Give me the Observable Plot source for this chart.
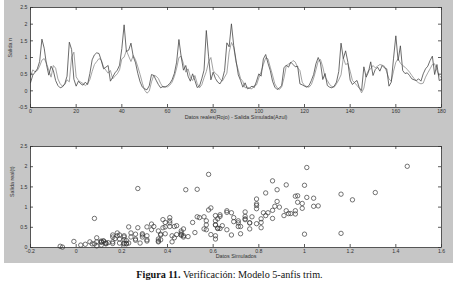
<!DOCTYPE html>
<html>
<head>
<meta charset="utf-8">
<script src="https://cdn.jsdelivr.net/npm/d3@7"></script>
<script src="https://cdn.jsdelivr.net/npm/@observablehq/plot@0.6"></script>
<style>
  html, body { margin: 0; padding: 0; background: #fff; }
  #fig { position: absolute; left: 4px; top: 0; width: 449px; height: 263px; background: #c6c6c6; }
  #topc, #botc { position: absolute; left: 0; }
  #topc { top: 0; }
  #botc { top: 131px; }
  #cap { position: absolute; left: 0; top: 269px; width: 459px; text-align: center;
         font-family: "Liberation Serif", "DejaVu Serif", serif; font-size: 10.2px; color: #111; }
  svg { background: transparent !important; }
</style>
</head>
<body>
<div id="fig"><div id="topc"></div><div id="botc"></div></div>
<div id="cap"><b>Figura 11.</b> Verificación: Modelo 5-anfis trim.</div>
<script>
// Datos reales (Rojo), t = 0..180
const realData = [
 0.24,0.47,0.56,0.66,0.88,1.55,1.28,0.79,0.47,0.74,
 0.61,0.31,0.16,0.09,0.12,0.21,0.44,1.46,1.24,0.35,
 0.14,0.29,0.21,0.17,0.26,0.19,0.52,0.93,1.08,1.14,
 1.12,0.91,0.66,0.71,0.76,0.29,0.41,0.54,0.62,0.77,
 1.27,1.98,1.18,1.22,1.43,1.03,0.84,0.52,0.27,0.11,
 0.06,0.03,0.15,0.49,0.46,0.32,0.19,0.09,0.13,0.11,
 0.16,0.22,0.33,0.52,0.86,1.54,1.02,0.62,0.76,0.44,
 0.29,0.51,0.31,0.10,0.14,0.36,0.62,1.81,1.02,0.33,
 0.56,0.37,0.26,0.21,0.34,0.61,1.44,1.32,2.01,1.36,
 0.92,0.48,0.31,0.11,0.24,0.06,0.09,0.14,0.10,0.29,
 0.51,0.44,0.96,1.09,0.83,0.61,0.29,0.11,0.04,0.08,
 0.16,0.69,0.77,0.71,0.86,0.79,0.72,0.74,0.21,0.18,
 0.14,0.11,0.16,0.31,0.49,0.81,1.00,0.84,0.34,0.52,
 0.16,0.11,0.09,0.14,0.26,0.58,1.43,0.97,1.20,0.86,
 0.32,0.19,0.26,0.31,0.09,0.01,0.72,0.41,0.56,0.87,
 0.46,0.64,0.71,0.59,0.76,0.69,0.66,0.14,0.26,0.98,
 1.65,0.91,1.35,0.61,0.52,0.54,0.46,0.36,0.33,0.31,
 0.36,0.29,0.51,0.66,0.74,0.91,1.04,0.49,0.79,0.31,
 0.34
];
// Salida simulada (Azul), t = 0..180
const simData = [
 0.43,0.63,0.57,0.61,0.74,0.92,0.97,0.83,0.62,0.41,
 0.76,0.68,0.36,0.21,0.14,0.19,0.33,0.27,1.01,1.16,
 0.42,0.31,0.26,0.22,0.16,0.21,0.34,0.58,0.79,0.88,
 0.97,0.92,0.71,0.62,0.53,0.61,0.36,0.44,0.51,0.63,
 0.96,1.01,1.21,1.04,0.88,1.06,0.93,0.72,0.49,0.23,
 0.02,-0.07,-0.01,0.27,0.47,0.44,0.37,0.22,0.11,0.13,
 0.12,0.17,0.26,0.43,0.68,1.00,1.04,0.81,0.56,0.66,
 0.42,0.31,0.46,0.22,0.09,0.18,0.39,0.58,0.87,1.00,
 0.61,0.52,0.47,0.36,0.29,0.41,0.53,1.16,1.45,1.31,
 0.86,0.62,0.37,0.28,0.09,0.11,0.07,0.06,0.16,0.18,
 0.39,0.57,0.79,0.99,0.96,0.71,0.47,0.21,0.09,0.04,
 0.12,0.38,0.74,0.81,0.84,0.91,0.86,0.69,0.61,0.26,
 0.16,0.13,0.11,0.19,0.38,0.63,0.89,0.94,0.72,0.41,
 0.31,0.19,0.13,0.11,0.21,0.33,0.48,0.99,0.79,0.82,
 0.59,0.31,0.24,0.16,0.08,-0.06,0.08,0.46,0.61,0.66,
 0.76,0.69,0.74,0.79,0.77,0.74,0.57,0.36,0.29,0.59,
 0.86,0.96,0.83,0.76,0.71,0.64,0.56,0.46,0.37,0.29,
 0.24,0.21,0.23,0.41,0.54,0.66,0.79,0.81,0.61,0.46,
 0.39
];
const topXTicks = [0, 20, 40, 60, 80, 100, 120, 140, 160, 180];
const topYTicks = [-0.5, 0, 0.5, 1, 1.5, 2, 2.5];
const botXTicks = [-0.2, 0, 0.2, 0.4, 0.6, 0.8, 1, 1.2, 1.4, 1.6];
const botYTicks = [0, 0.5, 1, 1.5, 2, 2.5];
const topXLabel = "Datos reales(Rojo) - Salida Simulada(Azul)";
const topYLabel = "Salida n";
const botXLabel = "Datos Simulados";
const botYLabel = "Salida real(t)";

const series = realData.map((v, i) => ({t: i, real: v, sim: simData[i]}));
const fmt = d => String(+d.toFixed(1));
const axisColor = "#333";
const font = {fontFamily: "Liberation Sans, Arial, sans-serif", fontSize: "5.2px", color: "#333", background: "transparent"};

function boxMarks(xt, yt, iw, ih) {
  return [
    Plot.axisX(xt, {tickSize: 0, tickPadding: 2, tickFormat: fmt, label: null}),
    Plot.axisY(yt, {tickSize: 0, tickPadding: 3, tickFormat: fmt, label: null}),
    Plot.tickX(xt, {x: d => d, insetTop: ih - 3, stroke: axisColor, strokeWidth: 0.8}),
    Plot.tickX(xt, {x: d => d, insetBottom: ih - 3, stroke: axisColor, strokeWidth: 0.8}),
    Plot.tickY(yt, {y: d => d, insetRight: iw - 3, stroke: axisColor, strokeWidth: 0.8}),
    Plot.tickY(yt, {y: d => d, insetLeft: iw - 3, stroke: axisColor, strokeWidth: 0.8}),
    Plot.frame({stroke: axisColor, strokeWidth: 0.8})
  ];
}

const W = 449, H1 = 131, H2 = 132;
const m1 = {marginLeft: 26, marginRight: 12, marginTop: 7, marginBottom: 24};
const m2 = {marginLeft: 26, marginRight: 12, marginTop: 15, marginBottom: 16};

const topChart = Plot.plot({
  width: W, height: H1, ...m1,
  style: font,
  x: {domain: [0, 180]},
  y: {domain: [-0.5, 2.5]},
  marks: [
    Plot.frame({fill: "white", stroke: null}),
    Plot.lineY(series, {x: "t", y: "sim", stroke: "#8c8c8c", strokeWidth: 0.8}),
    Plot.lineY(series, {x: "t", y: "real", stroke: "#464646", strokeWidth: 0.8}),
    ...boxMarks(topXTicks, topYTicks, W - m1.marginLeft - m1.marginRight, H1 - m1.marginTop - m1.marginBottom),
    Plot.text([topXLabel], {text: d => d, frameAnchor: "bottom", dy: 11, fontSize: 5.4, fill: "#333"}),
    Plot.text([topYLabel], {text: d => d, frameAnchor: "left", dx: -20, rotate: -90, fontSize: 5.4, fill: "#333"})
  ]
});
document.getElementById("topc").appendChild(topChart);

const botChart = Plot.plot({
  width: W, height: H2, ...m2,
  style: font,
  x: {domain: [-0.2, 1.6]},
  y: {domain: [0, 2.5]},
  marks: [
    Plot.frame({fill: "white", stroke: null}),
    Plot.dot(series, {x: "sim", y: "real", r: 2.2, stroke: "#3a3a3a", strokeWidth: 0.7, fill: "none"}),
    ...boxMarks(botXTicks, botYTicks, W - m2.marginLeft - m2.marginRight, H2 - m2.marginTop - m2.marginBottom),
    Plot.text([botXLabel], {text: d => d, frameAnchor: "bottom", dy: 10.5, fontSize: 5.4, fill: "#333"}),
    Plot.text([botYLabel], {text: d => d, frameAnchor: "left", dx: -18, rotate: -90, fontSize: 5.4, fill: "#333"})
  ]
});
document.getElementById("botc").appendChild(botChart);
</script>
</body>
</html>
